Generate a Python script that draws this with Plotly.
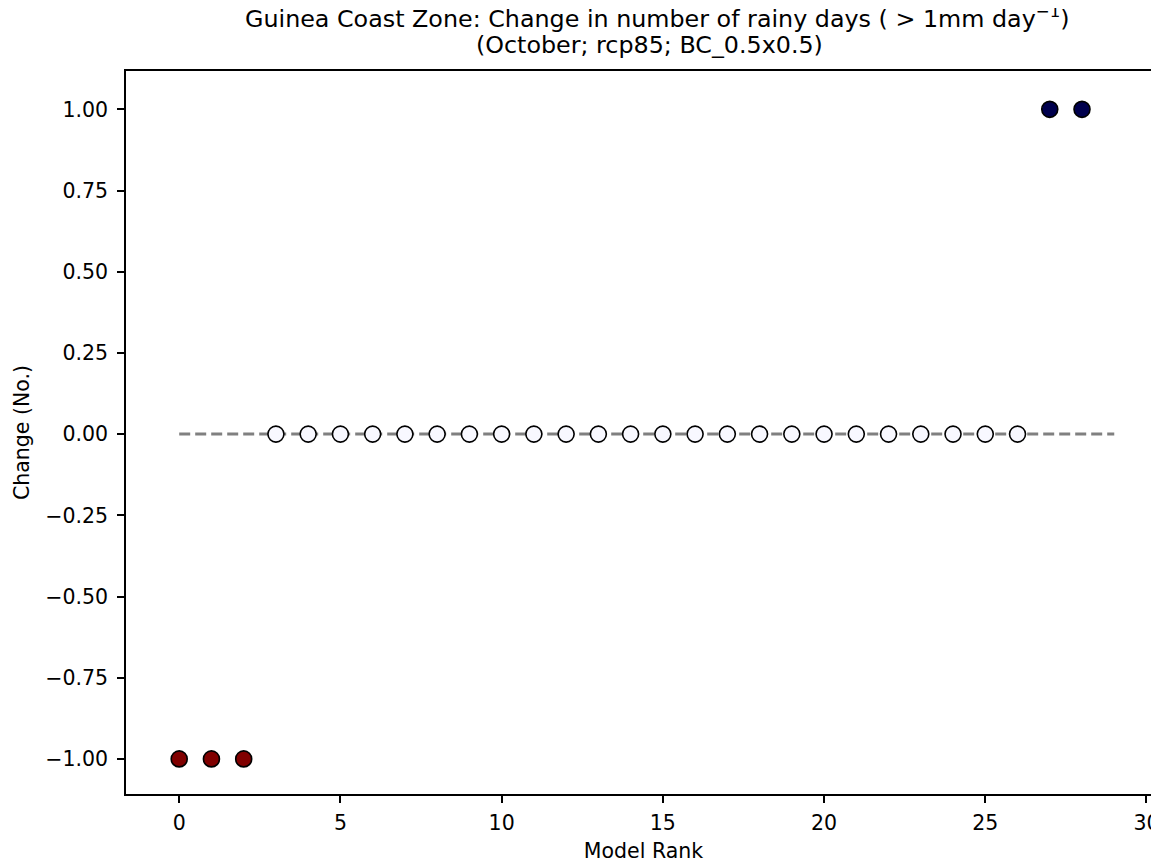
import plotly.graph_objects as go

# Model rank vs change in rainy days (October, rcp85)
model_rank = list(range(29))
change = [-1, -1, -1] + [0] * 24 + [1, 1]

# reference zero line spans the ranks
ref_x = [0, len(model_rank)]
ref_y = [0, 0]

x_ticks = [0, 5, 10, 15, 20, 25, 30]
y_ticks = [-1, -0.75, -0.5, -0.25, 0, 0.25, 0.5, 0.75, 1]

title_lines = [
    "Guinea Coast Zone: Change in number of rainy days ( > 1mm day<sup>−1</sup>)",
    "(October; rcp85; BC_0.5x0.5)",
]

# seismic-like colouring: negative = dark red, zero = near white, positive = navy
def point_colour(v):
    if v < 0:
        return "#800000"
    if v > 0:
        return "#00004d"
    return "#f8f8ff"

colours = [point_colour(v) for v in change]

fig = go.Figure()

fig.add_trace(go.Scatter(
    x=ref_x, y=ref_y, mode="lines",
    line=dict(color="#808080", width=3, dash="11px,5px"),
    hoverinfo="skip", showlegend=False
))

fig.add_trace(go.Scatter(
    x=model_rank, y=change, mode="markers",
    marker=dict(size=16, color=colours, line=dict(color="black", width=1.6)),
    showlegend=False
))

axis_font = dict(family="DejaVu Sans", size=20.5, color="black")
title_font = dict(family="DejaVu Sans", size=23.8, color="black")

# the page body adds an 8px offset, so margins are reduced to compensate
fig.update_layout(
    width=1159, height=861,
    paper_bgcolor="white", plot_bgcolor="white",
    margin=dict(l=118, r=4, t=63, b=75),
    font=axis_font,
)

# two-line title placed as annotations for tighter line spacing
for line, shift, dx in zip(title_lines, [54, 26], [14, 6]):
    fig.add_annotation(
        text=line, xref="paper", yref="paper", x=0.5, y=1,
        xanchor="center", yanchor="middle", yshift=shift, xshift=dx,
        showarrow=False, font=title_font,
    )

fig.update_xaxes(
    range=[-1.65, 30.45],
    tickmode="array", tickvals=x_ticks,
    ticks="outside", ticklen=7, tickwidth=1.6, tickcolor="black",
    ticklabelstandoff=3,
    showline=True, linecolor="black", linewidth=1.6, mirror=True,
    showgrid=False, zeroline=False,
    title=dict(text="Model Rank", font=axis_font, standoff=9),
    tickfont=axis_font,
)

fig.update_yaxes(
    range=[-1.108, 1.118],
    tickmode="array", tickvals=y_ticks,
    tickformat=".2f",
    ticks="outside", ticklen=7, tickwidth=1.6, tickcolor="black",
    ticklabelstandoff=5,
    showline=True, linecolor="black", linewidth=1.6, mirror=True,
    showgrid=False, zeroline=False,
    title=dict(text="Change (No.)", font=axis_font, standoff=10),
    tickfont=axis_font,
)

fig.write_html("out.html")
